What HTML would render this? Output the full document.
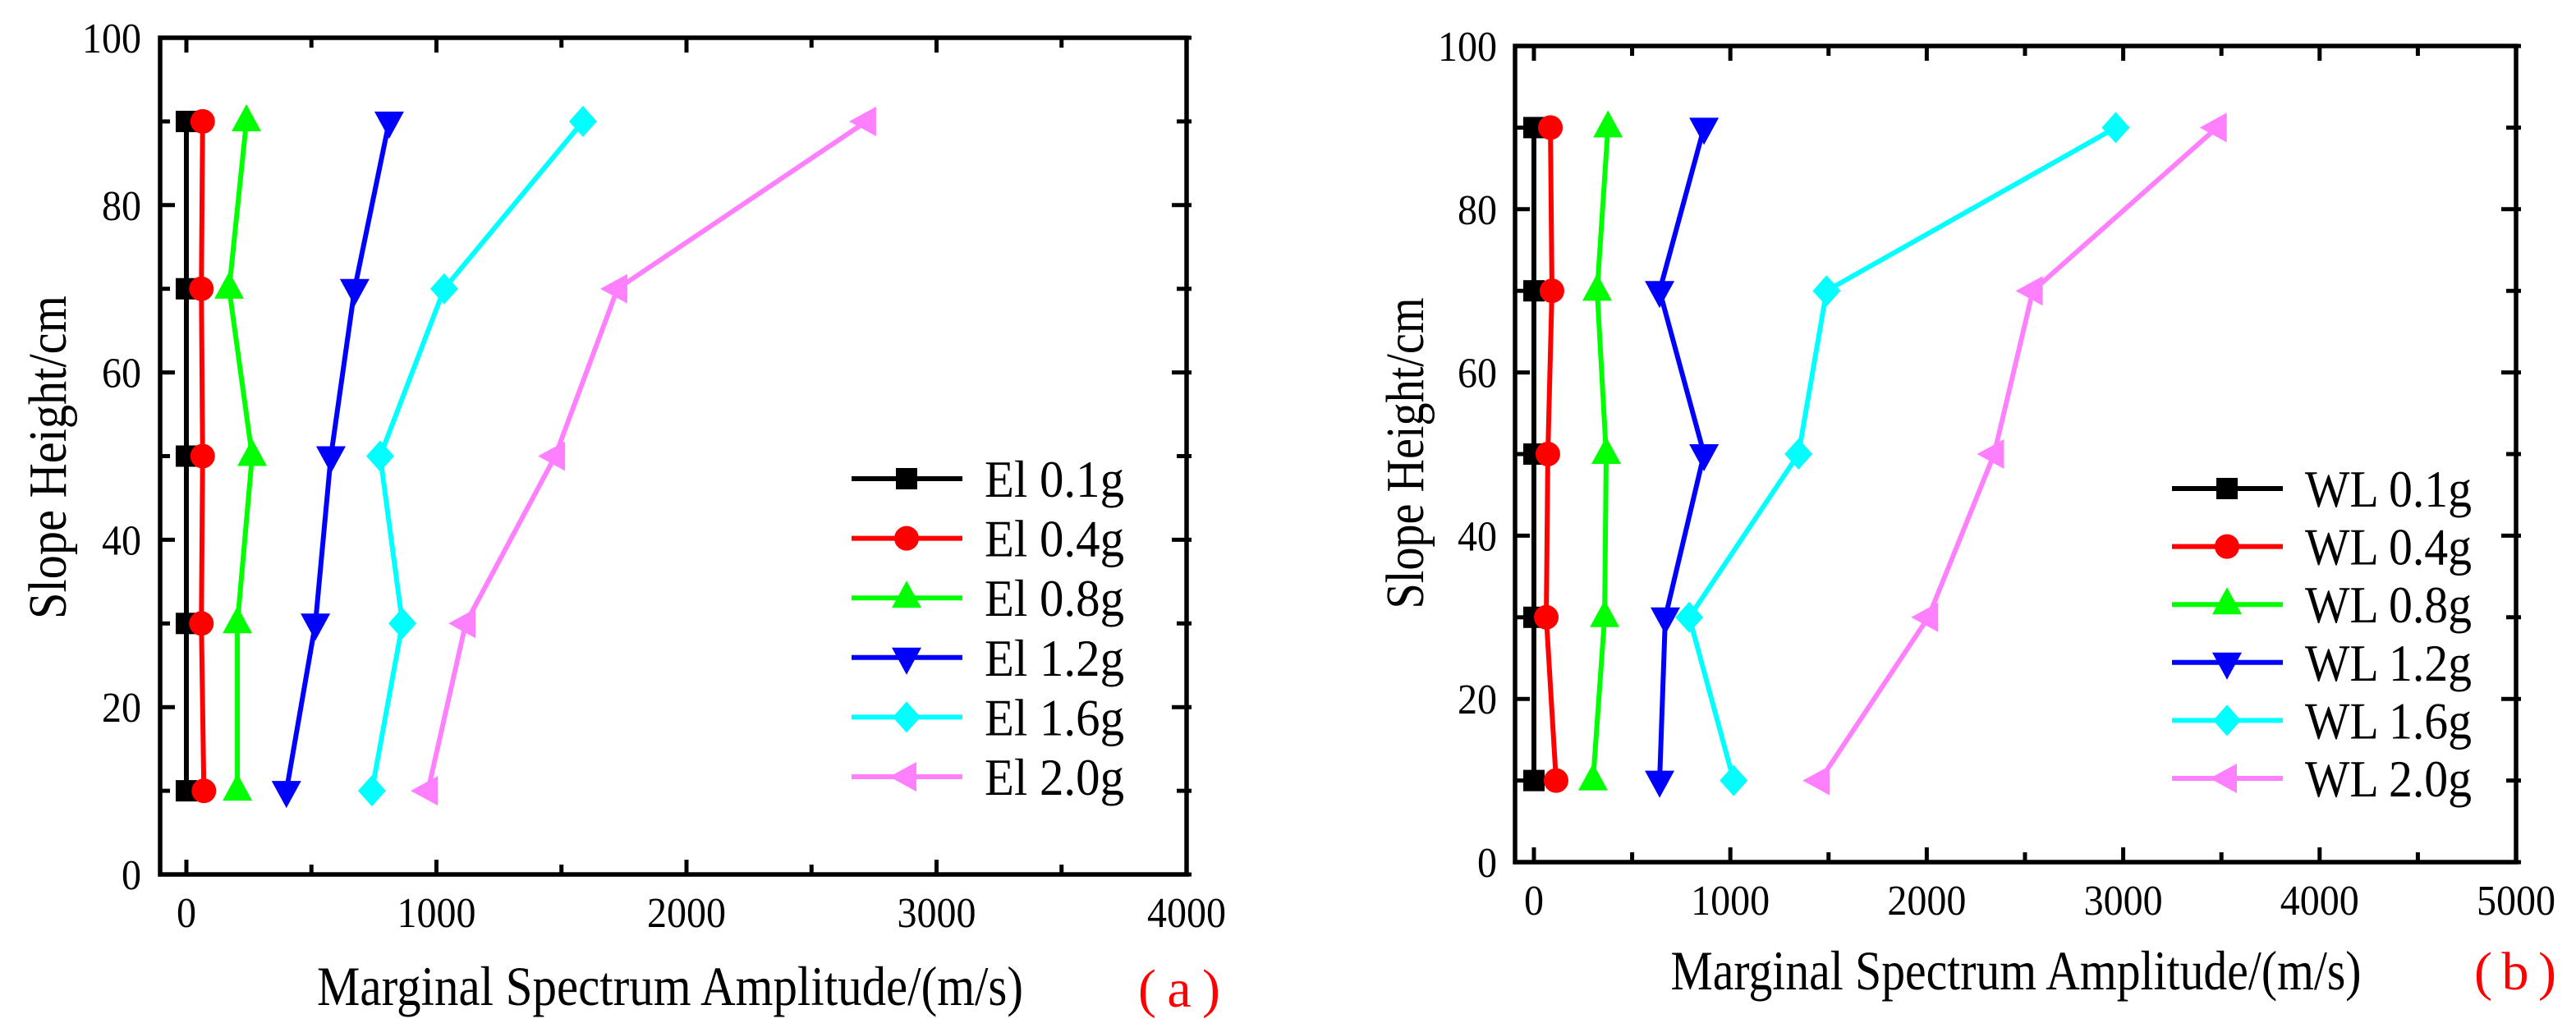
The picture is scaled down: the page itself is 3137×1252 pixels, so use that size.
<!DOCTYPE html>
<html><head><meta charset="utf-8"><style>
body{margin:0;background:#fff}
svg{display:block}
text{font-family:"Liberation Serif","Noto Serif CJK SC",serif}
</style></head><body>
<svg id="chart" width="3137" height="1252" viewBox="0 0 3137 1252" xmlns="http://www.w3.org/2000/svg"></svg>
<script>
const heights = [10, 30, 50, 70, 90];
const gLabelsA = ["El 0.1g","El 0.4g","El 0.8g","El 1.2g","El 1.6g","El 2.0g"];
const gLabelsB = ["WL 0.1g","WL 0.4g","WL 0.8g","WL 1.2g","WL 1.6g","WL 2.0g"];
const a01 = [0, 0, 0, 0, 0];
const a04 = [70, 60, 65, 60, 65];
const a08 = [204, 204, 263, 171, 240];
const a12 = [400, 516, 578, 673, 811];
const a16 = [742, 864, 775, 1031, 1586];
const a20 = [966, 1117, 1475, 1724, 2719];
const b01 = [0, 0, 0, 0, 0];
const b04 = [113, 63, 71, 92, 84];
const b08 = [301, 360, 368, 322, 377];
const b12 = [640, 669, 866, 640, 866];
const b16 = [1017, 791, 1347, 1490, 2962];
const b20 = [1456, 2008, 2343, 2540, 3477];
const xTicksA = [0, 1000, 2000, 3000, 4000];
const xTicksB = [0, 1000, 2000, 3000, 4000, 5000];
const yTicks = [0, 20, 40, 60, 80, 100];

const colors = ["#000000","#ff0000","#00ff00","#0000ff","#00ffff","#ff80ff"];
const shapes = ["square","circle","up","down","diamond","left"];
const NS = "http://www.w3.org/2000/svg";
const svg = document.getElementById("chart");
function mk(tag, attrs, parent){const e=document.createElementNS(NS,tag);for(const k in attrs)e.setAttribute(k,attrs[k]);(parent||svg).appendChild(e);return e;}

function marker(g, shape, cx, cy, col){
  let e;
  if(shape==="square") e=mk("rect",{x:cx-13,y:cy-13,width:26,height:26,fill:col},g);
  else if(shape==="circle") e=mk("circle",{cx:cx,cy:cy,r:15,fill:col},g);
  else if(shape==="up") e=mk("polygon",{points:`${cx},${cy-21} ${cx+18},${cy+12} ${cx-18},${cy+12}`,fill:col},g);
  else if(shape==="down") e=mk("polygon",{points:`${cx},${cy+21} ${cx+18},${cy-12} ${cx-18},${cy-12}`,fill:col},g);
  else if(shape==="diamond") e=mk("polygon",{points:`${cx},${cy-19} ${cx+17},${cy} ${cx},${cy+19} ${cx-17},${cy}`,fill:col},g);
  else e=mk("polygon",{points:`${cx-21},${cy} ${cx+12},${cy-18} ${cx+12},${cy+18}`,fill:col},g);
  
  
}

function panel(cfg){
  const {L,R,T,B,xmin,xmax,xTicks,series,labels,legX,legY,legStep,legW,ytx,xty,yLabX,yLabY,yLabLen,titleX,titleY,titleW,tag,tagX,tagY,name} = cfg;
  const g = mk("g",{});
  
  
  const sx = v => L + (v - xmin) / (xmax - xmin) * (R - L);
  const sy = v => B - v / 100 * (B - T);
  for(let v=0; v<=xmax; v+=500){
    const x=sx(v), len = v%1000===0?18:12;
    mk("line",{x1:x,y1:B,x2:x,y2:B-len,stroke:"#000","stroke-width":5},g);
    mk("line",{x1:x,y1:T,x2:x,y2:T+len,stroke:"#000","stroke-width":5},g);
  }
  for(let v=0; v<=100; v+=10){
    const y=sy(v), len = v%20===0?18:12;
    mk("line",{x1:L,y1:y,x2:L+len,y2:y,stroke:"#000","stroke-width":5},g);
    mk("line",{x1:R-len,y1:y,x2:R+6,y2:y,stroke:"#000","stroke-width":5},g);
  }
  const frame = mk("rect",{x:L,y:T,width:R-L,height:B-T,fill:"none",stroke:"#000","stroke-width":5.5},g);
  
  
  xTicks.forEach(v=>{
    const t=mk("text",{x:sx(v),y:xty,"font-size":52,"text-anchor":"middle",textLength:String(v).length*24,lengthAdjust:"spacingAndGlyphs"},g);
    t.textContent=v;
    
    
  });
  yTicks.forEach(v=>{
    const t=mk("text",{x:ytx,y:sy(v)+18,"font-size":52,"text-anchor":"end",textLength:String(v).length*24,lengthAdjust:"spacingAndGlyphs"},g);
    t.textContent=v;
    
    
  });
  series.forEach((vals,i)=>{
    const sg = mk("g",{},g);
    
    
    const pts = vals.map((v,j)=>sx(v)+","+sy(heights[j])).join(" ");
    mk("polyline",{points:pts,fill:"none",stroke:colors[i],"stroke-width":6,"stroke-linejoin":"round"},sg);
    vals.forEach((v,j)=>marker(sg,shapes[i],sx(v),sy(heights[j]),colors[i]));
  });
  labels.forEach((lab,i)=>{
    const lg = mk("g",{},g);
    
    
    const y = legY + i*legStep;
    mk("line",{x1:legX,y1:y,x2:legX+135,y2:y,stroke:colors[i],"stroke-width":6},lg);
    marker(lg,shapes[i],legX+67,y,colors[i]);
    const t=mk("text",{x:legX+162,y:y+22,"font-size":64,textLength:legW,lengthAdjust:"spacingAndGlyphs"},lg);
    t.textContent=lab;
  });
  const yl = mk("text",{x:0,y:0,"font-size":66,"text-anchor":"middle",textLength:yLabLen,lengthAdjust:"spacingAndGlyphs",transform:`translate(${yLabX},${yLabY}) rotate(-90)`},g);
  yl.textContent="Slope Height/cm";
  
  
  const xl = mk("text",{x:titleX,y:titleY,"font-size":68,"text-anchor":"middle",textLength:titleW,lengthAdjust:"spacingAndGlyphs"},g);
  xl.textContent="Marginal Spectrum Amplitude/(m/s)";
  
  
  const tg = mk("text",{x:tagX,y:tagY,"font-size":66,"text-anchor":"middle",fill:"#ff0000",textLength:100,lengthAdjust:"spacing"},g);
  tg.textContent=tag;
  
  
}

panel({name:"panel-a",L:195,R:1445,T:46,B:1065,xmin:-105,xmax:4000,xTicks:xTicksA,
  series:[a01,a04,a08,a12,a16,a20],labels:gLabelsA,legX:1037,legY:583,legStep:72.6,legW:170,
  ytx:172,xty:1129,yLabX:80,yLabY:557,yLabLen:394,titleX:816,titleY:1224,titleW:860,tag:"(a)",tagX:1436,tagY:1226});
panel({name:"panel-b",L:1845,R:3064,T:56,B:1050,xmin:-96,xmax:5000,xTicks:xTicksB,
  series:[b01,b04,b08,b12,b16,b20],labels:gLabelsB,legX:2645,legY:595,legStep:70.6,legW:203,
  ytx:1823,xty:1114,yLabX:1733,yLabY:552,yLabLen:379,titleX:2455,titleY:1205,titleW:841,tag:"(b)",tagX:3063,tagY:1205});
</script>
</body></html>
